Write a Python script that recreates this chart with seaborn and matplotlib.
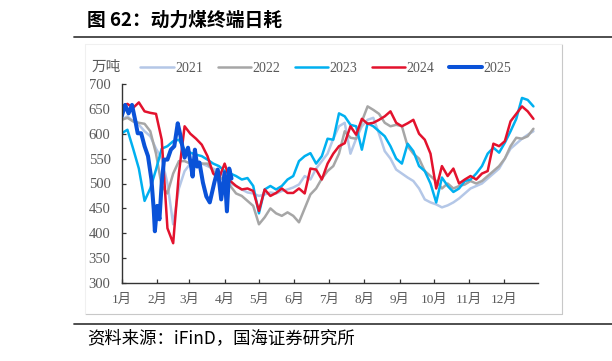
import matplotlib
matplotlib.use("Agg")
import matplotlib.pyplot as plt
import seaborn as sns
import pandas as pd

# ---------------- data ----------------
days = list(range(0, 365, 5))  # day of year (0 = 1 Jan)

v2021 = [628, 635, 625, 618, 605, 595, 570, 550, 500, 418, 490, 525, 540, 548, 540,
         535, 530, 525, 510, 500, 495, 488, 482, 480, 475, 478, 482, 480, 485, 488,
         492, 498, 515, 508, 530, 545, 560, 590, 615, 622, 560, 590, 615, 628, 632,
         600, 565, 550, 528, 520, 512, 505, 490, 468, 462, 458, 452, 456, 462, 470,
         480, 490, 495, 500, 510, 520, 530, 550, 570, 580, 590, 598, 605]
v2022 = [628, 632, 625, 622, 620, 605, 560, 495, 480, 520, 545, 545, 540, 535, 540,
         540, 525, 515, 505, 495, 480, 475, 465, 455, 418, 432, 450, 440, 435, 442,
         435, 422, 450, 478, 490, 510, 525, 535, 560, 605, 592, 590, 625, 655, 648,
         640, 622, 615, 618, 615, 575, 560, 550, 525, 515, 505, 490, 500, 490, 495,
         498, 505, 500, 505, 515, 525, 535, 550, 575, 592, 590, 595, 610]
v2023 = [601, 608, 570, 530, 465, 490, 528, 570, 575, 585, 588, 568, 562, 558, 555,
         548, 540, 535, 525, 520, 515, 508, 511, 495, 440, 488, 495, 488, 495, 508,
         515, 545, 555, 561, 540, 555, 590, 588, 641, 635, 618, 615, 568, 621, 615,
         605, 595, 575, 550, 540, 580, 565, 535, 525, 500, 462, 512, 495, 483, 490,
         505, 508, 520, 535, 560, 572, 562, 582, 605, 630, 672, 668, 655]
v2024 = [655, 660, 652, 663, 645, 642, 640, 588, 410, 380, 520, 615, 600, 590, 578,
         555, 520, 510, 540, 505, 495, 488, 490, 485, 445, 488, 475, 481, 490, 481,
         481, 490, 480, 530, 528, 508, 540, 560, 575, 581, 615, 598, 630, 620, 622,
         628, 635, 645, 622, 615, 621, 628, 600, 588, 560, 490, 535, 515, 530, 500,
         508, 515, 508, 520, 525, 580, 575, 585, 625, 640, 655, 645, 630]

days_2025 = [0, 3, 6, 9, 12, 14, 17, 20, 23, 26, 28, 29, 31, 33, 35, 37, 40, 43, 46,
             49, 51, 53, 55, 58, 61, 62, 64, 66, 68, 71, 74, 77, 81, 84, 87, 90, 92,
             94, 96]
v2025 = [635, 658, 641, 658, 625, 601, 601, 575, 555, 508, 448, 404, 455, 428, 501,
         548, 548, 568, 575, 621, 600, 575, 552, 572, 530, 514, 568, 534, 542, 502,
         474, 462, 502, 528, 468, 522, 444, 530, 510]

years = ["2021", "2022", "2023", "2024", "2025"]
colors = ["#B4C7E7", "#A6A6A6", "#00B0F0", "#E3122D", "#0A52D8"]
widths = [1.8, 1.8, 1.8, 1.8, 2.9]

month_days = [0, 31, 59, 90, 120, 151, 181, 212, 243, 273, 304, 334]
month_labels = ["1月", "2月", "3月", "4月", "5月", "6月", "7月", "8月", "9月",
                "10月", "11月", "12月"]
y_ticks = [300, 350, 400, 450, 500, 550, 600, 650, 700]

# ---------------- plot ----------------
sns.set_theme(style="white")
plt.rcParams["font.family"] = ["Noto Sans CJK SC", "DejaVu Sans"]
cjk = ["Noto Sans CJK SC", "DejaVu Sans"]
serif = ["Liberation Serif", "Noto Sans CJK SC"]

fig = plt.figure(figsize=(6.12, 3.61), dpi=100)
ax = fig.add_axes([121.7 / 612, 1 - 283 / 361, (538 - 121.7) / 612, (283 - 84) / 361])

series = [(days, v2021), (days, v2022), (days, v2023), (days, v2024), (days_2025, v2025)]
for (xd, yv), yr, c, w in zip(series, years, colors, widths):
    df = pd.DataFrame({"day": xd, "val": yv})
    sns.lineplot(data=df, x="day", y="val", ax=ax, color=c, linewidth=w, label=yr,
                 legend=False)

ax.set_xlim(0, 364)
ax.set_ylim(300, 700)
ax.set_xlabel("")
ax.set_ylabel("")
ax.set_xticks(month_days)
ax.set_xticklabels(month_labels, fontfamily=serif, fontsize=9.5, color="#595959")
ax.set_yticks(y_ticks)
ax.set_yticklabels([str(v) for v in y_ticks], fontfamily=serif, fontsize=10.5,
                   color="#595959")
ax.tick_params(axis="both", direction="in", length=3, width=0.9, color="#333333",
               left=True, bottom=True)
ax.tick_params(axis="x", pad=8)
ax.tick_params(axis="y", pad=8)
for s in ["top", "right"]:
    ax.spines[s].set_visible(False)
for s in ["left", "bottom"]:
    ax.spines[s].set_color("#333333")
    ax.spines[s].set_linewidth(1.0)
ax.set_facecolor("none")
ax.grid(False)

handles, labels = ax.get_legend_handles_labels()
leg = fig.legend(handles, labels, loc="center", bbox_to_anchor=(326 / 612, 1 - 68 / 361),
                 ncol=5, frameon=False, handlelength=2.4, columnspacing=1.05,
                 handletextpad=0.1, prop={"family": serif, "size": 10})
for t in leg.get_texts():
    t.set_color("#595959")

fig.text(106 / 612, 1 - 67 / 361, "万吨", ha="center", va="center", fontsize=10.5,
         color="#595959", family=cjk)

# title and frame decorations
fig.text(87 / 612, 1 - 20 / 361, "图 62：动力煤终端日耗", ha="left", va="center",
         fontsize=13.5, fontweight="bold", color="black", family=cjk)
fig.add_artist(plt.Line2D([74 / 612, 1], [1 - 37 / 361, 1 - 37 / 361],
                          color="#404040", linewidth=1.3))
fig.add_artist(plt.Line2D([74 / 612, 1], [1 - 324 / 361, 1 - 324 / 361],
                          color="#404040", linewidth=1.3))
# light frame around chart
fig.add_artist(plt.Line2D([85 / 612, 562 / 612], [1 - 314 / 361, 1 - 314 / 361],
                          color="#C8C8C8", linewidth=0.8))
fig.add_artist(plt.Line2D([562 / 612, 562 / 612], [1 - 44 / 361, 1 - 314 / 361],
                          color="#C8C8C8", linewidth=0.8))
fig.add_artist(plt.Line2D([85 / 612, 562 / 612], [1 - 44 / 361, 1 - 44 / 361],
                          color="#F0F0F0", linewidth=0.8))
fig.add_artist(plt.Line2D([85 / 612, 85 / 612], [1 - 44 / 361, 1 - 314 / 361],
                          color="#F0F0F0", linewidth=0.8))

fig.text(87 / 612, 1 - 338 / 361, "资料来源：iFinD，国海证券研究所", ha="left", va="center",
         fontsize=12.5, color="black", family=cjk)

fig.savefig("out.png", dpi=100)
